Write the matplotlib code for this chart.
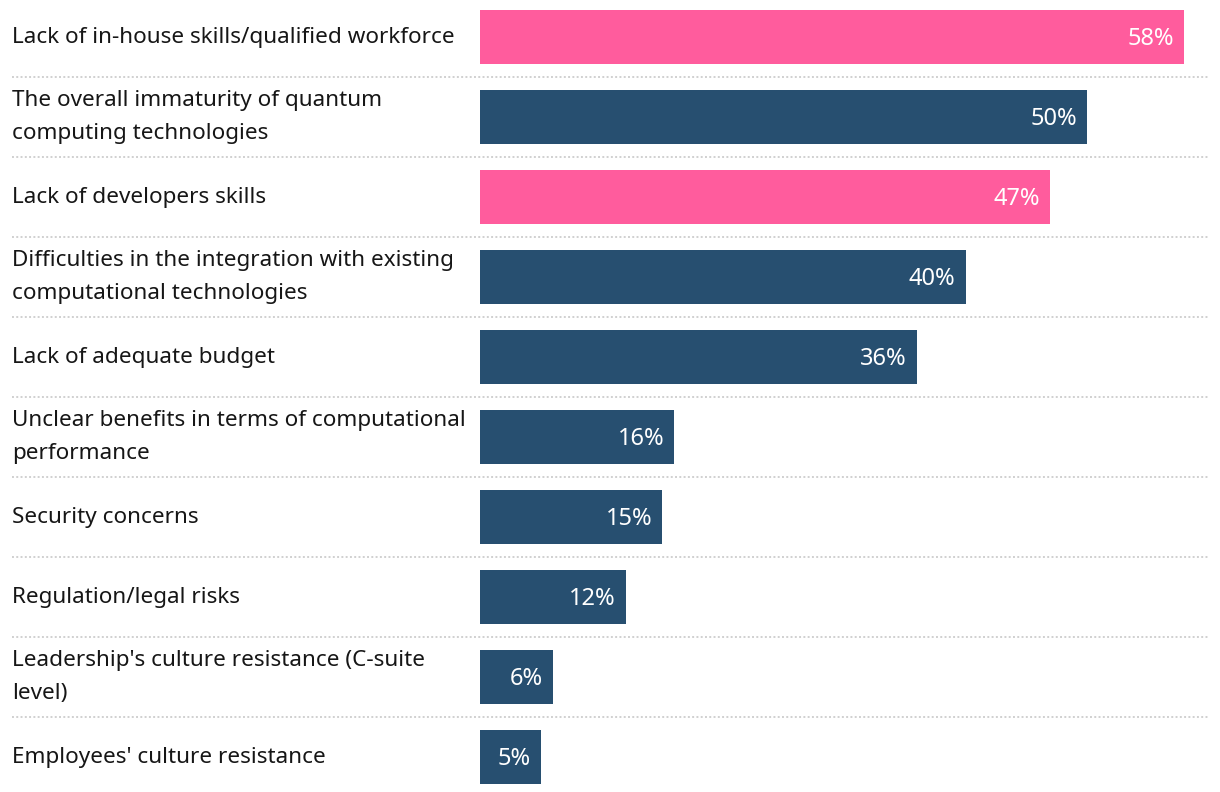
import matplotlib
matplotlib.use("Agg")
import matplotlib.pyplot as plt
import matplotlib.transforms as mtransforms

# Données
categories = [
    "Lack of in-house skills/qualified workforce",
    "The overall immaturity of quantum\ncomputing technologies",
    "Lack of developers skills",
    "Difficulties in the integration with existing\ncomputational technologies",
    "Lack of adequate budget",
    "Unclear benefits in terms of computational\nperformance",
    "Security concerns",
    "Regulation/legal risks",
    "Leadership's culture resistance (C-suite\nlevel)",
    "Employees' culture resistance",
]
valeurs = [58, 50, 47, 40, 36, 16, 15, 12, 6, 5]
surlignes = [True, False, True, False, False, False, False, False, False, False]

ROSE = "#FF5C9D"
BLEU = "#274F70"

plt.rcParams['font.family'] = ['Noto Sans', 'DejaVu Sans']

fig = plt.figure(figsize=(12.2, 7.92), dpi=100)
ax = fig.add_axes([0, 0, 1, 1])

px = 704 / 58  # pixels par point de %
ax.set_xlim(-480 / px, (1220 - 480) / px)
ax.set_ylim((792 - 37) / 80, -37 / 80)

y = list(range(len(categories)))
couleurs = [ROSE if s else BLEU for s in surlignes]
ax.barh(y, valeurs, height=54 / 80, color=couleurs, left=0)

# étiquettes de pourcentage dans les barres
for yi, v in zip(y, valeurs):
    ax.text(v - 10 / px, yi + 0.02, f"{v}%", color="white", fontsize=17,
            ha="right", va="center")

# libellés à gauche
trans = mtransforms.blended_transform_factory(fig.transFigure, ax.transData)
for yi, lab in zip(y, categories):
    ax.text(12 / 1220, yi, lab, transform=trans, fontsize=16.2,
            ha="left", va="center", color="#161616", linespacing=1.75)

# séparateurs pointillés
for yi in y[:-1]:
    ax.axhline(yi + 0.5, xmin=12 / 1220, xmax=1208 / 1220,
               color="#d0d0d0", linestyle=(0, (1, 1.2)), linewidth=1.4)

ax.axis("off")
fig.savefig("out.png", dpi=100)
